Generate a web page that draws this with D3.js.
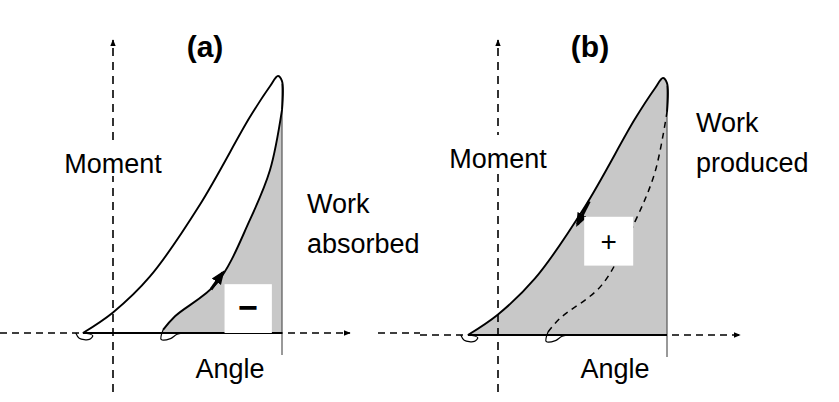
<!DOCTYPE html>
<html><head><meta charset="utf-8">
<script src="https://cdn.jsdelivr.net/npm/d3@7"></script>
<style>body{margin:0;background:#fff}text{font-family:Arial,"Liberation Sans",sans-serif}</style>
</head><body><div id="chart"></div>
<script>
// loop shape in (angle, moment) units: y axis at 0, end of stance at 100
const upperCurve = [[-17.8,0],[0,8],[21.9,22],[51.5,50],[81,84],[92.9,96],[97.6,100],[100,98],[100,86.8]];
const lowerCurve = [[29.6,1.2],[36.7,6.5],[61.5,19.5],[81,44],[92.9,63.4],[100,86.8]];
const smallLoops = [[[-22,0],[-20,-2],[-14,-2.5],[-12,-1],[-17.8,0]],[[29.6,1.2],[28.5,-2.5],[34,-2.2],[38,-0.5],[45,0]]];
const panels = [
  {label:"(a)", ox:113, oy:333, side:["Work","absorbed"], sign:"\u2212", filled:"lower", arrowAt:[58,17,1]},
  {label:"(b)", ox:498, oy:335, side:["Work","produced"], sign:"+", filled:"upper", arrowAt:[54,52,-1]}
];

const svg = d3.select("#chart").append("svg").attr("width",839).attr("height",402);
const defs = svg.append("defs");
defs.append("marker").attr("id","ah").attr("viewBox","0 0 10 10").attr("refX",9).attr("refY",5)
  .attr("markerWidth",7).attr("markerHeight",7).attr("markerUnits","userSpaceOnUse").attr("orient","auto")
  .append("path").attr("d","M0,1L10,5L0,9Z").attr("fill","#000");
defs.append("marker").attr("id","ahb").attr("viewBox","0 0 10 10").attr("refX",8).attr("refY",5)
  .attr("markerWidth",14).attr("markerHeight",14).attr("markerUnits","userSpaceOnUse").attr("orient","auto")
  .append("path").attr("d","M0,1L10,5L0,9Z").attr("fill","#000");

panels.forEach((p,i) => {
  const x = d3.scaleLinear().domain([0,100]).range([p.ox, p.ox+169]);
  const y = d3.scaleLinear().domain([0,100]).range([p.oy, p.oy-257]);
  const g = svg.append("g");
  const line = d3.line().x(d=>x(d[0])).y(d=>y(d[1])).curve(d3.curveCatmullRom);
  const area = d3.area().x(d=>x(d[0])).y0(y(0)).y1(d=>y(d[1])).curve(d3.curveCatmullRom);
  const fillData = p.filled==="lower" ? lowerCurve : upperCurve;
  g.append("path").attr("d", area(fillData)).attr("fill","#c8c8c8");
  const xEnd = i===0 ? 350 : 740;
  const xStart = i===0 ? 0 : 420;
  g.append("line").attr("x1",xStart).attr("x2",xEnd).attr("y1",y(0)).attr("y2",y(0))
    .attr("stroke","#000").attr("stroke-width",1.6).attr("stroke-dasharray","7,5").attr("marker-end","url(#ah)");
  if(i===0) g.append("line").attr("x1",378).attr("x2",420).attr("y1",y(0)).attr("y2",y(0))
    .attr("stroke","#000").attr("stroke-width",1.6).attr("stroke-dasharray","7,5");
  g.append("line").attr("x1",x(0)).attr("x2",x(0)).attr("y1",392).attr("y2",40)
    .attr("stroke","#000").attr("stroke-width",1.6).attr("stroke-dasharray","8,6").attr("marker-end","url(#ah)");
  g.append("line").attr("x1",x(100)).attr("x2",x(100)).attr("y1",y(97)).attr("y2",y(0)+22)
    .attr("stroke","#555").attr("stroke-width",1.2);
  g.append("line").attr("x1",x(-17.8)).attr("x2",x(100)).attr("y1",y(0)).attr("y2",y(0))
    .attr("stroke","#000").attr("stroke-width",1.8);
  g.append("path").attr("d",line(upperCurve)).attr("fill","none").attr("stroke","#000").attr("stroke-width",1.9);
  g.append("path").attr("d",line(lowerCurve)).attr("fill","none").attr("stroke","#000").attr("stroke-width",i===1?1.5:1.9)
    .attr("stroke-dasharray", i===1 ? "6,5" : null);
  smallLoops.forEach(l => g.append("path").attr("d",line(l)).attr("fill","none").attr("stroke","#000").attr("stroke-width",1.2));
  const [ax,ay,dir] = p.arrowAt;
  const a0 = [x(ax), y(ay)], a1 = [x(ax+dir*7), y(ay+dir*(i===0?6.5:9))];
  g.append("line").attr("x1",a0[0]).attr("y1",a0[1]).attr("x2",a1[0]).attr("y2",a1[1])
    .attr("stroke","#000").attr("stroke-width",3).attr("marker-end","url(#ahb)");
  const bx = i===0 ? [66,94,19,0] : [51,80,46,27];
  g.append("rect").attr("x",x(bx[0])).attr("y",y(bx[2])).attr("width",x(bx[1])-x(bx[0])).attr("height",y(bx[3])-y(bx[2])).attr("fill","#fff");
  g.append("text").attr("x",(x(bx[0])+x(bx[1]))/2).attr("y",(y(bx[2])+y(bx[3]))/2+10).attr("text-anchor","middle")
    .attr("font-size",i===0?34:28).attr("font-weight",i===0?"bold":"normal").text(p.sign);
  g.append("text").attr("x",x(0)+92).attr("y",57).attr("text-anchor","middle").attr("font-size",30).attr("font-weight","bold").text(p.label);
  g.append("rect").attr("x",x(0)-60).attr("y",i===0?140:135).attr("width",120).attr("height",36).attr("fill","#fff");
  g.append("text").attr("x",x(0)).attr("y",i===0?173:168).attr("text-anchor","middle").attr("font-size",27).text("Moment");
  g.append("text").attr("x",x(0)+117).attr("y",378).attr("text-anchor","middle").attr("font-size",27).text("Angle");
  const sy = i===0 ? [213,253] : [132,172];
  p.side.forEach((t,k)=>g.append("text").attr("x",x(100)+ (i===0?25:29)).attr("y",sy[k]).attr("font-size",27).text(t));
});
</script></body></html>
